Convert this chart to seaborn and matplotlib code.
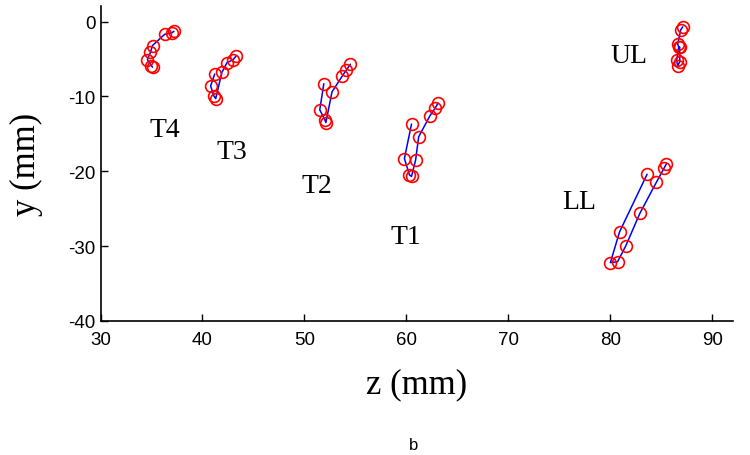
import matplotlib
matplotlib.use("Agg")
import matplotlib.pyplot as plt
import seaborn as sns
import pandas as pd

# trajectories of each articulator (z, y in mm)
t4_z = [37.2, 37.0, 36.3, 35.1, 34.9, 34.6, 35.0, 35.1]
t4_y = [-1.3, -1.5, -1.7, -3.2, -4.1, -5.1, -5.9, -6.1]
t3_z = [43.3, 43.0, 42.4, 41.9, 41.3, 41.1, 40.8, 41.2]
t3_y = [-4.6, -5.1, -5.5, -6.8, -10.3, -9.9, -8.6, -7.0]
t2_z = [54.5, 54.1, 53.7, 52.7, 52.1, 52.0, 51.5, 51.9]
t2_y = [-5.7, -6.5, -7.3, -9.4, -13.5, -13.1, -11.8, -8.3]
t1_z = [63.1, 62.8, 62.3, 61.2, 60.9, 60.5, 60.3, 59.8, 60.5]
t1_y = [-10.9, -11.6, -12.6, -15.4, -18.5, -20.7, -20.5, -18.3, -13.7]
ll_z = [85.5, 85.3, 84.5, 82.9, 81.5, 80.7, 80.0, 80.9, 83.6]
ll_y = [-19.0, -19.5, -21.5, -25.6, -30.0, -32.1, -32.2, -28.1, -20.4]
ul_z = [87.1, 86.9, 86.6, 86.7, 86.5, 86.6, 86.8, 86.8]
ul_y = [-0.7, -1.1, -3.0, -3.4, -5.2, -5.9, -5.4, -3.4]

labels = ["T4", "T3", "T2", "T1", "LL", "UL"]
label_z = [36.3, 42.9, 51.2, 59.9, 76.9, 81.8]
label_y = [-14.4, -17.3, -21.9, -28.7, -24.0, -4.6]

groups = {"T4": (t4_z, t4_y), "T3": (t3_z, t3_y), "T2": (t2_z, t2_y),
          "T1": (t1_z, t1_y), "LL": (ll_z, ll_y), "UL": (ul_z, ul_y)}

frames = []
for name, (z, y) in groups.items():
    frames.append(pd.DataFrame({"z": z, "y": y, "part": name}))
df = pd.concat(frames, ignore_index=True)

sns.set_style("ticks")
plt.rcParams["xtick.direction"] = "in"
plt.rcParams["ytick.direction"] = "in"
plt.rcParams["axes.unicode_minus"] = False
for key in ["text.color", "axes.labelcolor", "xtick.color", "ytick.color",
            "axes.edgecolor"]:
    plt.rcParams[key] = "black"

fig = plt.figure(figsize=(7.5, 4.56), dpi=100)
ax = fig.add_axes([0.134, 0.294, 0.843, 0.691])

sns.lineplot(data=df, x="z", y="y", units="part", estimator=None, sort=False,
             color="blue", linewidth=1.1, marker="o", markersize=8.5,
             markerfacecolor="none", markeredgecolor="red", markeredgewidth=1.2,
             ax=ax)

for lab, lz, ly in zip(labels, label_z, label_y):
    ax.text(lz, ly, lab, ha="center", va="center", fontsize=20,
            family="Liberation Serif")

ax.set_xlim(30, 92)
ax.set_ylim(-40, 2.1)
ax.set_xticks([30, 40, 50, 60, 70, 80, 90])
ax.set_yticks([0, -10, -20, -30, -40])
ax.tick_params(length=5, width=1, labelsize=13.5)
ax.tick_params(axis="x", pad=7)
for t in ax.get_xticklabels() + ax.get_yticklabels():
    t.set_family("Liberation Sans")
ax.set_xlabel("z (mm)", fontsize=25, family="Liberation Serif", labelpad=14)
ax.set_ylabel("y (mm)", fontsize=25, family="Liberation Serif", labelpad=18)
for s in ["left", "bottom"]:
    ax.spines[s].set_linewidth(1.2)
sns.despine(ax=ax)

fig.text(0.551, 0.022, "b", ha="center", va="center", fontsize=12,
         family="Liberation Sans")

fig.savefig("out.png", dpi=100)
